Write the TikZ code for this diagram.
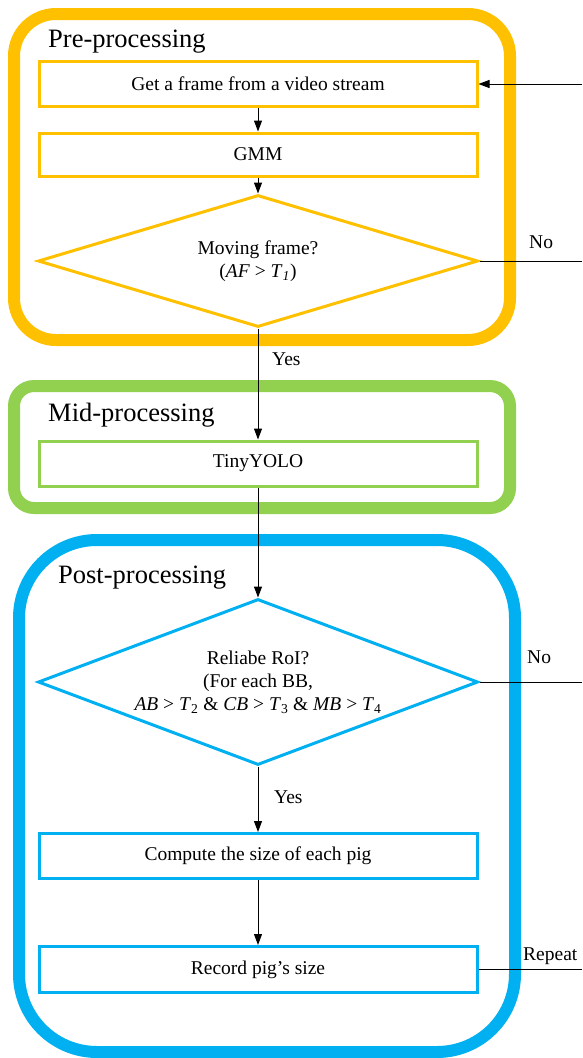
\documentclass[tikz,border=0pt]{standalone}
\usepackage{fontspec}
\setmainfont{Liberation Serif}
\usetikzlibrary{shapes.geometric,arrows.meta}
\definecolor{preC}{HTML}{FFC000}
\definecolor{midC}{HTML}{92D050}
\definecolor{postC}{HTML}{00B0F0}
\begin{document}
\begin{tikzpicture}[x=1pt,y=-1pt,
  frame/.style={line width=12pt},
  stepbox/.style={draw,line width=3pt,minimum width=438pt,inner sep=0pt,align=center,
    font=\fontsize{19.5}{23}\selectfont},
  decide/.style={draw,diamond,line width=3pt,inner sep=0pt,align=center,
    font=\fontsize{19.5}{23}\selectfont},
  title/.style={anchor=base west,inner sep=0pt,font=\fontsize{26.5}{30}\selectfont},
  lbl/.style={anchor=west,inner sep=0pt,font=\fontsize{19.5}{23}\selectfont},
  conn/.style={line width=1pt,black},
  arr/.style={conn,-{Triangle[length=11pt,width=8pt]}}
]
\useasboundingbox (0,0) rectangle (582,1058);
% frames
\draw[frame,preC,rounded corners=42pt] (14,14) rectangle (510,340);
\draw[frame,midC,rounded corners=20pt] (14,386) rectangle (510,508);
\draw[frame,postC,rounded corners=78pt] (19,540) rectangle (515,1052);
% titles
\node[title] (tpre) at (48,47) {Pre-processing};
\node[title] (tmid) at (48,421) {Mid-processing};
\node[title] (tpost) at (58,583) {Post-processing};
% steps
\node[stepbox,preC,minimum height=45pt,text=black] (get) at (258,84) {Get a frame from a video stream};
\node[stepbox,preC,minimum height=43pt,text=black] (gmm) at (258,154.5) {GMM};
\node[decide,preC,text=black,minimum width=440pt,minimum height=132pt,aspect=3.33] (d1) at (258,261)
  {Moving frame?\\(\textit{AF} > \textit{T}\textsubscript{\textit{1}})};
\node[stepbox,midC,minimum height=45pt,text=black] (tiny) at (258,463.5) {TinyYOLO};
\node[decide,postC,text=black,minimum width=440pt,minimum height=166pt,aspect=2.65] (d2) at (258,682)
  {Reliabe RoI?\\(For each BB,\\\textit{AB} > \textit{T}\textsubscript{2} \& \textit{CB} > \textit{T}\textsubscript{3} \& \textit{MB} > \textit{T}\textsubscript{4}};
\node[stepbox,postC,minimum height=45pt,text=black] (comp) at (258,856) {Compute the size of each pig};
\node[stepbox,postC,minimum height=46pt,text=black] (rec) at (258,969.5) {Record pig’s size};
% edge coordinates
\coordinate (rin) at (582,84);
\coordinate (rno1) at (582,261);
\coordinate (rno2) at (582,682);
\coordinate (rrep) at (582,969.5);
% connectors
\draw[arr] (get) -- (gmm);
\draw[arr] (gmm) -- (d1);
\draw[arr] (d1) -- (tiny);
\draw[arr] (tiny) -- (d2);
\draw[arr] (d2) -- (comp);
\draw[arr] (comp) -- (rec);
\draw[arr] (rin) -- (get.east);
\draw[conn] (d1.east) -- (rno1);
\draw[conn] (d2.east) -- (rno2);
\draw[conn] (rec.east) -- (rrep);
% labels
\node[lbl] (no1) at (529,242) {No};
\node[lbl] (yes1) at (272,359) {Yes};
\node[lbl] (no2) at (527,657) {No};
\node[lbl] (yes2) at (274,797) {Yes};
\node[lbl] (rep) at (523,956) {Repeat};
\end{tikzpicture}
\end{document}
